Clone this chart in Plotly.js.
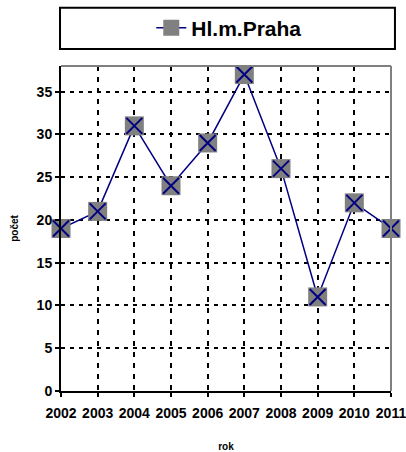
<!DOCTYPE html>
<html>
<head>
<meta charset="utf-8">
<script src="https://cdn.plot.ly/plotly-3.0.1.min.js"></script>
<style>
  html, body { margin: 0; padding: 0; background: #fff; }
  #chart { width: 406px; height: 452px; }
</style>
</head>
<body>
<div id="chart"></div>
<script>
// Data
const years = [2002, 2003, 2004, 2005, 2006, 2007, 2008, 2009, 2010, 2011];
const counts = [19, 21, 31, 24, 29, 37, 26, 11, 22, 19];
const seriesName = 'Hl.m.Praha';
const yTicks = [0, 5, 10, 15, 20, 25, 30, 35];

const navy = '#000080';
const fontFam = '"Liberation Sans", Arial, sans-serif';

// line + grey squares (shown in legend)
const squares = {
    x: years, y: counts, name: seriesName,
    type: 'scatter', mode: 'lines+markers',
    line: { color: navy, width: 1.5 },
    marker: { symbol: 'square', size: 19, color: '#808080', line: { width: 0 } },
    cliponaxis: false
};

// navy crosses on top of squares
const crosses = {
    x: years, y: counts, name: seriesName,
    type: 'scatter', mode: 'markers', showlegend: false,
    marker: { symbol: 'x-thin-open', size: 16, color: navy, line: { color: navy, width: 2 } },
    cliponaxis: false
};

const layout = {
    width: 406, height: 452,
    paper_bgcolor: '#fff', plot_bgcolor: '#fff',
    font: { family: fontFam, color: '#000', size: 13, weight: 'bold' },
    margin: { l: 61, r: 15, t: 66, b: 61, autoexpand: false },
    showlegend: true,
    legend: {
        orientation: 'h', x: 0.51, xanchor: 'center', y: 1.117, yanchor: 'middle',
        font: { size: 21, weight: 'bold', family: fontFam },
        bgcolor: 'rgba(0,0,0,0)', borderwidth: 0
    },
    xaxis: {
        range: [2002, 2011], tickmode: 'array', tickvals: years, ticktext: years.map(String),
        showline: true, linecolor: '#000', linewidth: 2,
        ticks: 'outside', ticklen: 4, tickwidth: 2, tickcolor: '#000',
        ticklabelstandoff: 4, ticklabeloverflow: 'allow',
        showgrid: true, gridcolor: '#000', gridwidth: 2, griddash: '5px,6px',
        zeroline: false, mirror: false,
        tickfont: { size: 14, weight: 'bold' },
        title: { text: 'rok', font: { size: 10, weight: 'bold' }, standoff: 26 }
    },
    yaxis: {
        range: [0, 38], tickmode: 'array', tickvals: yTicks,
        showline: true, linecolor: '#000', linewidth: 2,
        ticks: 'outside', ticklen: 4, tickwidth: 2, tickcolor: '#000',
        showgrid: true, gridcolor: '#000', gridwidth: 2, griddash: '4px,5px',
        zeroline: false,
        tickfont: { size: 14, weight: 'bold' },
        title: { text: 'počet', font: { size: 10, weight: 'bold' }, standoff: 16 }
    },
    shapes: [
        // grey border on top and right of plot area
        { type: 'line', xref: 'paper', yref: 'paper', x0: 0, x1: 1, y0: 1, y1: 1, line: { color: '#808080', width: 2 } },
        { type: 'line', xref: 'paper', yref: 'paper', x0: 1, x1: 1, y0: 0, y1: 1, line: { color: '#808080', width: 2 } },
        // legend box
        { type: 'rect', xref: 'paper', yref: 'paper', x0: -0.003, x1: 1.012, y0: 1.052, y1: 1.179, line: { color: '#000', width: 2 } }
    ]
};

Plotly.newPlot('chart', [squares, crosses], layout, { displayModeBar: false, staticPlot: true });
</script>
</body>
</html>
